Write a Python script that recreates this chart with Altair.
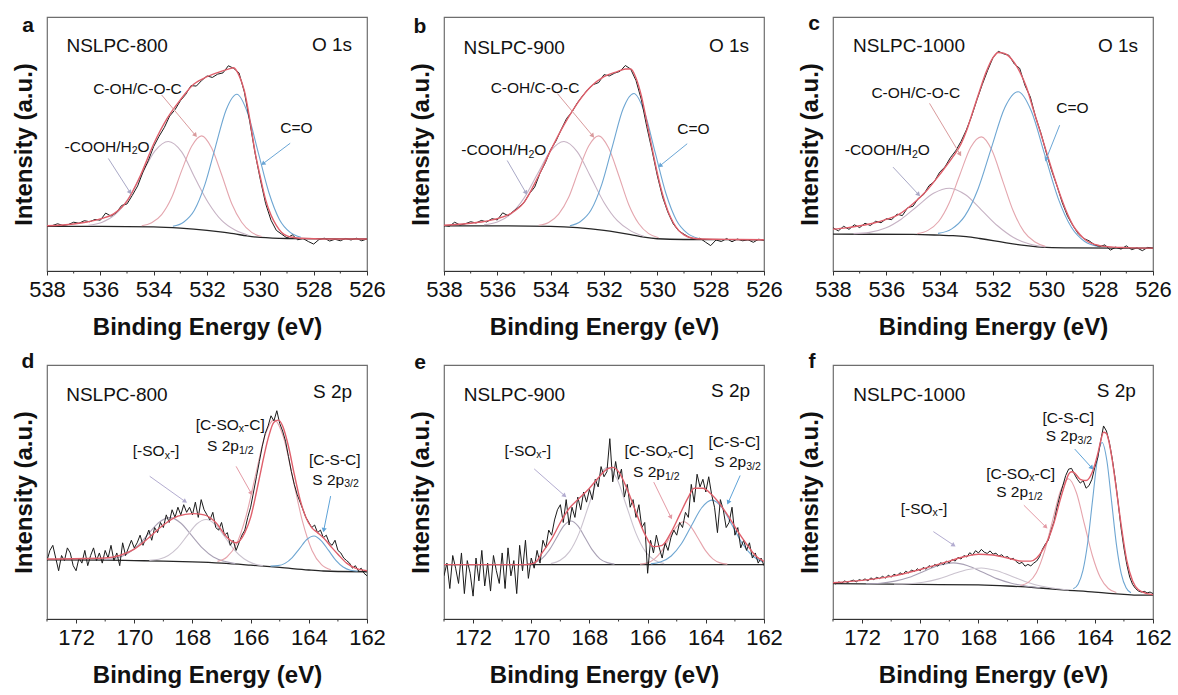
import math
import altair as alt
import numpy as np
import pandas as pd

FONT = "Liberation Sans"
W, H = 320, 254

# ---------------- axes ----------------
O_DOMAIN = [526, 538]
S_DOMAIN = [162, 173]
O_MAJOR = [538, 536, 534, 532, 530, 528, 526]
O_MINOR = [537, 535, 533, 531, 529, 527]
S_MAJOR = [172, 170, 168, 166, 164, 162]
S_MINOR = [173, 171, 169, 167, 165, 163]

# energy sampling grids of the measured spectra
O_RAW_X = np.round(np.linspace(538, 526, 61), 2)
S_RAW_X = np.round(np.linspace(173, 162, 111), 2)

# ---------------- panel a : NSLPC-800 O 1s ----------------
A_RAW = [17.5, 17.9, 18.6, 17.9, 18.3, 19.2, 18.8, 19.8, 19.4, 20.3,
         20.0, 22.8, 21.6, 23.0, 25.8, 26.4, 29.8, 33.5, 39.0, 43.5,
         49.0, 53.0, 56.5, 61.0, 63.5, 67.0, 69.5, 73.0, 72.8, 75.0,
         76.8, 76.2, 77.5, 78.0, 80.8, 79.8, 78.0, 70.5, 59.0, 46.5,
         36.0, 26.5, 20.0, 16.0, 14.5, 13.0, 14.2, 12.3, 12.8, 11.6,
         10.6, 12.4, 12.9, 11.8, 12.5, 11.9, 12.8, 12.2, 12.9, 11.9, 12.6]
A_FIT_X = [538, 537, 536.5, 536, 535.5, 535, 534.5, 534, 533.5, 533, 532.5, 532, 531.5, 531.2, 531,
           530.8, 530.6, 530.4, 530.2, 530, 529.8, 529.6, 529.4, 529.2, 529, 528.7, 528.3, 527, 526]
A_FIT_Y = [17.8, 18.5, 19.3, 20.5, 22.5, 27.5, 37.5, 50.0, 60.0, 67.4, 73.5, 76.5, 78.5, 79.5, 80.0,
           77.0, 71.0, 60.0, 47.0, 37.0, 28.0, 22.0, 18.0, 15.2, 13.8, 13.1, 12.8, 12.6, 12.6]
A_BASE_X = [538, 536, 534, 533, 532, 531.5, 531, 530.5, 530, 529, 526]
A_BASE_Y = [17.6, 17.6, 17.4, 16.9, 16.0, 15.4, 14.7, 13.8, 13.2, 12.8, 12.6]
A_P1_X = [536.45, 535.95, 535.45, 534.95, 534.45, 533.95, 533.45, 532.95, 532.45, 531.95, 531.45, 530.95, 530.45]
A_P1_Y = [18.0, 19.1, 22.2, 28.5, 38.0, 47.3, 51.0, 46.9, 36.6, 26.9, 19.9, 16.1, 14.1]
A_P2_X = [534.45, 534.075, 533.7, 533.325, 532.95, 532.575, 532.2, 531.825, 531.45, 531.075, 530.7, 530.325, 529.95]
A_P2_Y = [17.8, 19.0, 22.2, 28.9, 39.5, 49.1, 53.2, 48.4, 37.9, 26.6, 19.2, 15.2, 13.6]
A_P3_X = [533.28, 532.88, 532.48, 532.08, 531.68, 531.28, 530.88, 530.48, 530.08, 529.68, 529.28, 528.88, 528.48]
A_P3_Y = [17.6, 19.2, 23.8, 34.0, 49.0, 63.5, 69.6, 62.3, 46.7, 30.9, 20.2, 15.2, 13.3]

# ---------------- panel b : NSLPC-900 O 1s ----------------
B_RAW = [18.0, 17.6, 19.2, 18.1, 18.6, 19.4, 18.9, 19.9, 19.3, 20.6,
         20.1, 22.9, 21.8, 23.5, 25.1, 26.9, 30.4, 33.0, 38.5, 42.6,
         47.8, 51.2, 55.8, 60.1, 62.6, 66.2, 69.0, 71.5, 73.4, 74.2,
         77.3, 76.8, 77.9, 78.6, 80.9, 79.5, 75.0, 67.5, 57.0, 47.5,
         37.5, 29.0, 23.0, 18.5, 15.8, 14.5, 13.2, 12.6, 12.9, 11.4,
         10.0, 12.2, 11.6, 12.8, 11.5, 12.6, 11.9, 12.3, 11.3, 12.5, 12.1]
B_FIT_X = [538, 537, 536.5, 536, 535.5, 535, 534.5, 534, 533.5, 533, 532.5, 532, 531.5, 531.2, 531,
           530.8, 530.6, 530.4, 530.2, 530, 529.8, 529.6, 529.4, 529.2, 529, 528.7, 528.3, 527, 526]
B_FIT_Y = [18.0, 18.8, 19.5, 20.6, 22.6, 27.0, 36.5, 47.5, 57.5, 66.0, 72.5, 76.5, 78.5, 79.5, 79.5,
           76.0, 69.0, 59.0, 48.5, 38.5, 30.0, 23.5, 19.0, 16.0, 14.2, 13.0, 12.6, 12.4, 12.3]
B_BASE_X = [538, 536, 534, 533, 532, 531.5, 531, 530.5, 530, 529, 526]
B_BASE_Y = [17.8, 17.8, 17.6, 17.1, 16.0, 15.2, 14.3, 13.3, 12.7, 12.4, 12.3]
B_P1_X = [536.5, 536.0, 535.5, 535.0, 534.5, 534.0, 533.5, 533.0, 532.5, 532.0, 531.5, 531.0, 530.5]
B_P1_Y = [18.2, 19.3, 22.4, 28.7, 38.1, 47.3, 51.0, 46.9, 37.1, 27.0, 19.8, 15.8, 13.7]
B_P2_X = [534.45, 534.075, 533.7, 533.325, 532.95, 532.575, 532.2, 531.825, 531.45, 531.075, 530.7, 530.325, 529.95]
B_P2_Y = [18.0, 19.1, 22.4, 29.0, 39.6, 49.2, 53.2, 48.4, 37.7, 26.2, 18.7, 14.7, 13.1]
B_P3_X = [533.28, 532.88, 532.48, 532.08, 531.68, 531.28, 530.88, 530.48, 530.08, 529.68, 529.28, 528.88, 528.48]
B_P3_Y = [17.8, 19.5, 24.1, 34.2, 49.3, 64.0, 69.9, 62.5, 46.6, 30.6, 19.9, 14.9, 12.9]

# ---------------- panel c : NSLPC-1000 O 1s ----------------
C_RAW = [17.0, 15.8, 17.6, 16.4, 18.2, 17.1, 18.8, 17.9, 19.6, 19.0,
         20.6, 20.2, 22.4, 21.8, 24.9, 25.5, 28.6, 30.1, 33.6, 35.2,
         38.9, 41.0, 44.6, 47.3, 51.0, 55.5, 61.0, 67.5, 73.5, 79.0,
         84.0, 86.5, 85.5, 84.9, 81.5, 79.8, 73.0, 68.5, 60.5, 54.2,
         46.5, 39.5, 33.5, 26.8, 21.5, 17.8, 14.6, 12.8, 11.9, 10.4,
         9.6, 10.3, 8.2, 9.4, 8.6, 9.9, 8.4, 9.1, 8.0, 9.3, 9.0]
C_FIT_X = [538, 537.5, 537, 536.5, 536, 535.5, 535, 534.5, 534, 533.5, 533.2, 533, 532.75, 532.5, 532.25,
           532, 531.8, 531.6, 531.4, 531.2, 531, 530.75, 530.5, 530.25, 530, 529.75, 529.5, 529.25, 529,
           528.75, 528.5, 528, 527.5, 527, 526]
C_FIT_Y = [16.5, 17.0, 17.8, 18.8, 20.3, 22.5, 26.5, 31.5, 38.0, 45.0, 50.0, 55.0, 63.0, 71.0, 78.5,
           84.0, 86.0, 85.8, 84.5, 82.0, 78.5, 72.5, 64.0, 55.5, 47.0, 38.5, 30.5, 23.5, 18.0,
           14.5, 12.0, 10.0, 9.4, 9.2, 9.0]
C_BASE_X = [538, 535, 534, 533.5, 533, 532.5, 532, 531.5, 531, 530.5, 530, 529, 526]
C_BASE_Y = [14.5, 14.4, 14.1, 13.9, 13.5, 12.8, 12.0, 11.1, 10.3, 9.7, 9.3, 9.1, 9.0]
C_P1_X = [537.23, 536.63, 536.03, 535.43, 534.83, 534.23, 533.63, 533.03, 532.43, 531.83, 531.23, 530.63, 530.03]
C_P1_Y = [14.7, 15.2, 16.9, 20.5, 25.6, 30.6, 32.6, 30.0, 24.0, 17.8, 13.2, 10.6, 9.5]
C_P2_X = [534.84, 534.44, 534.04, 533.64, 533.24, 532.84, 532.44, 532.04, 531.64, 531.24, 530.84, 530.44, 530.04]
C_P2_Y = [14.7, 16.0, 19.5, 26.9, 38.0, 48.6, 52.8, 47.5, 35.6, 23.6, 15.5, 11.5, 9.7]
C_P3_X = [534.06, 533.56, 533.06, 532.56, 532.06, 531.56, 531.06, 530.56, 530.06, 529.56, 529.06, 528.56, 528.06]
C_P3_Y = [14.8, 16.5, 21.6, 32.3, 48.5, 64.3, 70.6, 62.9, 45.8, 28.7, 17.2, 11.6, 9.7]

# ---------------- panel d : NSLPC-800 S 2p ----------------
D_RAW = [23, 27, 29, 24, 19, 25, 23, 28, 26, 21,
         19, 24, 22, 27, 21, 25, 28, 23, 26, 22,
         27, 24, 29, 23, 26, 21, 30, 25, 28, 31,
         28, 30, 33, 29, 32, 35, 31, 36, 34, 38,
         36, 41, 38, 43, 40, 44, 41, 45, 42, 44,
         41, 46, 40, 47, 43, 41, 39, 42, 36, 35,
         38, 33, 34, 29, 31, 27, 30, 33, 35, 40,
         44, 50, 56, 62, 68, 73, 76, 80, 78, 82,
         77, 74, 70, 64, 58, 53, 49, 46, 43, 40,
         38, 36, 37, 34, 35, 32, 33, 30, 29, 31,
         27, 26, 24, 23, 22, 20, 21, 19, 20, 18, 17]
D_FIT_X = [173, 171, 170.5, 170, 169.5, 169, 168.5, 168, 167.6, 167.2, 166.8, 166.5, 166.2, 166, 165.8,
           165.6, 165.4, 165.2, 165.05, 164.9, 164.7, 164.5, 164.3, 164.1, 163.9, 163.7, 163.5, 163.2,
           163, 162.7, 162.4, 162]
D_FIT_Y = [23.6, 24.0, 25.0, 27.5, 32.0, 37.0, 40.5, 41.5, 41.0, 38.0, 32.0, 30.0, 34.0, 40.0, 50.0,
           61.0, 71.0, 77.5, 78.3, 76.0, 68.0, 57.0, 47.0, 40.0, 36.0, 34.0, 32.0, 28.0,
           25.5, 22.0, 20.0, 19.0]
D_BASE_X = [173, 171, 170, 169, 168, 167, 166, 165, 164, 163.5, 163, 162]
D_BASE_Y = [23.3, 23.2, 23.0, 22.8, 22.5, 22.0, 21.2, 20.3, 19.3, 18.9, 18.7, 18.6]
D_P1_X = [171.03, 170.655, 170.28, 169.905, 169.53, 169.155, 168.78, 168.405, 168.03, 167.655, 167.28, 166.905, 166.53]
D_P1_Y = [23.4, 23.9, 25.4, 28.6, 33.3, 38.0, 39.9, 37.8, 32.9, 27.9, 24.4, 22.7, 21.8]
D_P2_X = [169.48, 169.155, 168.83, 168.505, 168.18, 167.855, 167.53, 167.205, 166.88, 166.555, 166.23, 165.905, 165.58]
D_P2_Y = [23.1, 23.5, 25.0, 28.1, 32.8, 37.4, 39.2, 37.1, 32.2, 27.1, 23.7, 21.8, 21.0]
D_P3_X = [167.14, 166.815, 166.49, 166.165, 165.84, 165.515, 165.19, 164.865, 164.54, 164.215, 163.89, 163.565, 163.24]
D_P3_Y = [22.7, 24.4, 29.4, 40.2, 56.2, 71.9, 78.4, 71.3, 54.9, 38.3, 27.0, 21.4, 19.4]
D_P4_X = [165.32, 165.07, 164.82, 164.57, 164.32, 164.07, 163.82, 163.57, 163.32, 163.07, 162.82, 162.57, 162.32]
D_P4_Y = [20.8, 21.0, 21.9, 24.2, 27.7, 31.3, 32.7, 30.8, 27.0, 23.1, 20.5, 19.2, 18.8]

# ---------------- panel e : NSLPC-900 S 2p ----------------
E_RAW = [17, 22, 12, 25, 20, 14, 26, 10, 23, 18,
         9, 24, 15, 27, 13, 22, 11, 25, 19, 14,
         26, 12, 28, 17, 23, 10, 29, 19, 31, 16,
         24, 20, 27, 22, 31, 28, 35, 33, 39, 43,
         45, 38, 47, 37, 44, 40, 48, 43, 50, 46,
         51, 47, 55, 52, 60, 56, 58, 71, 54, 62,
         55, 59, 48, 53, 44, 47, 40, 45, 36, 38,
         18, 31, 26, 33, 28, 24, 30, 27, 32, 35,
         33, 38, 36, 42, 40, 53, 46, 57, 52, 55,
         50, 56, 49, 44, 34, 47, 43, 36, 38, 44,
         33, 36, 28, 31, 27, 30, 24, 26, 22, 24, 21]
E_FIT_X = [173, 170.2, 169.9, 169.6, 169.3, 169, 168.7, 168.4, 168, 167.7, 167.4, 167.2, 167, 166.7, 166.4,
           166.1, 165.8, 165.5, 165.2, 164.9, 164.6, 164.4, 164.1, 163.8, 163.5, 163.2, 162.9, 162.6, 162.3, 162]
E_FIT_Y = [21.4, 21.4, 22.0, 26.5, 31.5, 38.0, 43.5, 47.0, 51.5, 55.5, 59.0, 59.7, 58.0, 51.0, 42.0,
           33.5, 28.5, 29.0, 34.0, 41.0, 48.0, 51.5, 51.5, 49.0, 45.0, 40.0, 34.5, 29.5, 25.0, 22.7]
E_BASE_X = [173, 162]
E_BASE_Y = [21.4, 21.4]
E_P1_X = [170.14, 169.89, 169.64, 169.39, 169.14, 168.89, 168.64, 168.39, 168.14, 167.89, 167.64, 167.39, 167.14]
E_P1_Y = [21.6, 22.2, 23.7, 27.0, 31.8, 36.6, 38.6, 36.6, 31.8, 27.0, 23.7, 22.2, 21.6]
E_P2_X = [169.33, 169.005, 168.68, 168.355, 168.03, 167.705, 167.38, 167.055, 166.73, 166.405, 166.08, 165.755, 165.43]
E_P2_Y = [21.8, 23.1, 26.6, 33.8, 44.6, 55.2, 59.7, 55.2, 44.6, 33.8, 26.6, 23.1, 21.8]
E_P3_X = [166.26, 166.01, 165.76, 165.51, 165.26, 165.01, 164.76, 164.51, 164.26, 164.01, 163.76, 163.51, 163.26]
E_P3_Y = [21.6, 22.1, 23.7, 26.9, 31.7, 36.3, 38.3, 36.3, 31.7, 26.9, 23.7, 22.1, 21.6]
E_P4_X = [165.89, 165.54, 165.19, 164.84, 164.49, 164.14, 163.79, 163.44, 163.09, 162.74, 162.39, 162.04]
E_P4_Y = [21.7, 22.5, 24.8, 29.6, 36.8, 43.8, 46.8, 43.8, 36.8, 29.6, 24.8, 22.5]

# ---------------- panel f : NSLPC-1000 S 2p ----------------
F_RAW = [14.2, 13.8, 14.6, 14.1, 15.0, 14.4, 14.9, 15.3, 14.6, 15.5,
         15.1, 15.8, 15.0, 16.2, 15.5, 16.4, 15.9, 16.8, 16.1, 17.2,
         16.5, 17.6, 17.0, 18.2, 17.6, 18.8, 18.1, 19.3, 18.7, 19.8,
         19.0, 20.3, 19.6, 21.0, 20.4, 21.5, 20.8, 22.2, 21.4, 22.8,
         22.1, 23.5, 22.8, 24.3, 23.6, 25.0, 24.4, 26.1, 25.2, 26.9,
         26.0, 27.4, 26.3, 25.8, 26.8, 25.5, 25.9, 24.8, 25.3, 24.2,
         24.6, 23.5, 23.9, 22.6, 21.8, 22.3, 20.8, 21.5, 20.9, 22.0,
         22.8, 24.5, 27.5, 29.5, 31.0, 35.0, 38.5, 44.0, 48.5, 52.5,
         56.5, 59.0, 59.3, 57.0, 55.0, 53.5, 54.5, 51.5, 52.5, 55.0,
         59.7, 63.5, 70.0, 76.0, 74.0, 69.5, 63.0, 55.2, 46.0, 36.0,
         28.0, 21.4, 16.5, 13.6, 12.0, 11.0, 10.6, 10.9, 10.3, 10.6, 10.0]
F_FIT_X = [173, 172, 171, 170, 169, 168.5, 168, 167.5, 167, 166.5, 166.2, 166, 165.8, 165.6, 165.4, 165.2,
           165, 164.9, 164.8, 164.7, 164.5, 164.3, 164.1, 163.9, 163.8, 163.7, 163.6, 163.5, 163.4, 163.3,
           163.1, 162.9, 162.7, 162.5, 162.2, 162]
F_FIT_Y = [14.3, 15.2, 16.8, 19.5, 22.8, 24.5, 25.5, 25.2, 24.0, 22.8, 22.8, 24.0, 27.0, 31.5, 38.0, 46.5,
           54.0, 57.0, 58.0, 57.5, 55.0, 54.5, 57.5, 65.0, 70.0, 73.5, 73.0, 69.0, 62.5, 54.5,
           37.5, 23.0, 15.0, 11.5, 10.0, 9.6]
F_BASE_X = [173, 170, 168, 167, 166, 165, 164, 163.5, 163, 162.5, 162]
F_BASE_Y = [13.9, 13.6, 13.4, 13.0, 12.3, 11.4, 10.6, 10.1, 9.7, 9.4, 9.4]
F_P1_X = [171.87, 171.37, 170.87, 170.37, 169.87, 169.37, 168.87, 168.37, 167.87, 167.37, 166.87, 166.37, 165.87]
F_P1_Y = [13.9, 14.1, 14.9, 16.4, 18.8, 21.1, 22.1, 21.0, 18.5, 15.9, 14.1, 13.0, 12.3]
F_P2_X = [170.9, 170.4, 169.9, 169.4, 168.9, 168.4, 167.9, 167.4, 166.9, 166.4, 165.9, 165.4, 164.9]
F_P2_Y = [13.8, 13.9, 14.5, 15.7, 17.6, 19.4, 20.1, 19.1, 17.0, 14.8, 13.1, 12.1, 11.4]
F_P3_X = [166.56, 166.285, 166.01, 165.735, 165.46, 165.185, 164.91, 164.635, 164.36, 164.085, 163.81, 163.535, 163.26]
F_P3_Y = [13.2, 14.4, 18.2, 26.4, 38.4, 50.3, 55.2, 49.8, 37.5, 25.0, 16.3, 12.0, 10.4]
F_P4_X = [164.74, 164.575, 164.41, 164.245, 164.08, 163.915, 163.75, 163.585, 163.42, 163.255, 163.09, 162.925, 162.76]
F_P4_Y = [11.9, 13.7, 19.0, 30.0, 46.5, 62.6, 69.5, 62.3, 45.9, 29.1, 17.8, 12.3, 10.3]

# ---------------- annotations (text with _{sub}, x, y, align, font size) ----------------
NS, AS = 19, 15.5   # sample / core-level label size, peak-label size
A_LABELS = [("NSLPC-800", 537.27, 88.4, "left", NS), ("O 1s", 526.56, 89.0, "right", NS),
            ("C-OH/C-O-C", 536.27, 71.6, "left", AS), ("-COOH/H_{2}O", 537.34, 49.0, "left", AS),
            ("C=O", 529.25, 56.2, "left", AS)]
B_LABELS = [("NSLPC-900", 537.27, 87.7, "left", NS), ("O 1s", 526.56, 88.4, "right", NS),
            ("C-OH/C-O-C", 536.25, 71.9, "left", AS), ("-COOH/H_{2}O", 537.35, 47.5, "left", AS),
            ("C=O", 529.25, 56.0, "left", AS)]
C_LABELS = [("NSLPC-1000", 537.25, 88.4, "left", NS), ("O 1s", 526.56, 88.4, "right", NS),
            ("C-OH/C-O-C", 536.56, 70.2, "left", AS), ("-COOH/H_{2}O", 537.56, 47.5, "left", AS),
            ("C=O", 529.63, 64.0, "left", AS)]
D_LABELS = [("NSLPC-800", 172.34, 88.2, "left", NS), ("S 2p", 162.51, 89.5, "right", NS),
            ("[-SO_{x}-]", 169.25, 66.0, "center", AS), ("[C-SO_{x}-C]", 166.7, 76.5, "center", AS),
            ("S 2p_{1/2}", 166.7, 68.0, "center", AS), ("[C-S-C]", 163.11, 62.7, "center", AS),
            ("S 2p_{3/2}", 163.08, 54.9, "center", AS)]
E_LABELS = [("NSLPC-900", 172.32, 88.3, "left", NS), ("S 2p", 162.48, 89.6, "right", NS),
            ("[-SO_{x}-]", 170.12, 66.2, "center", AS), ("[C-SO_{x}-C]", 165.61, 66.2, "center", AS),
            ("S 2p_{1/2}", 165.7, 57.8, "center", AS), ("[C-S-C]", 163.02, 69.5, "center", AS),
            ("S 2p_{3/2}", 162.91, 61.7, "center", AS)]
F_LABELS = [("NSLPC-1000", 172.3, 88.3, "left", NS), ("S 2p", 162.59, 89.6, "right", NS),
            ("[C-S-C]", 164.91, 79.2, "center", AS), ("S 2p_{3/2}", 164.89, 72.0, "center", AS),
            ("[C-SO_{x}-C]", 166.55, 57.1, "center", AS), ("S 2p_{1/2}", 166.59, 50.0, "center", AS),
            ("[-SO_{x}-]", 169.87, 43.5, "center", AS)]

# arrows (x start, y start, x end, y end)
O_ARROW_COLORS = ["#a9a8c6", "#d99a9c", "#6aa6d6"]
S_ARROW_COLORS = ["#b3acd0", "#e49aa5", "#5ea3d8"]
A_ARROWS = [(535.7, 44.3, 534.9, 31.2), (533.7, 69.3, 532.45, 53.6), (528.88, 50.3, 529.88, 42.4)]
B_ARROWS = [(535.63, 43.5, 534.94, 31.0), (533.75, 69.9, 532.44, 53.4), (528.88, 50.1, 529.88, 41.6)]
C_ARROWS = [(535.75, 40.9, 534.81, 30.3), (534.38, 66.0, 533.25, 46.2), (529.5, 57.4, 530.0, 44.2)]
D_ARROWS = [(169.47, 56.2, 168.27, 46.4), (166.5, 60.1, 165.99, 49.7), (163.25, 48.4, 163.48, 35.3)]
E_ARROWS = [(169.9, 59.1, 168.87, 48.7), (165.79, 53.9, 165.21, 40.3), (162.82, 56.5, 163.22, 46.1)]
F_ARROWS = [(169.55, 34.4, 168.87, 29.2), (166.44, 44.8, 165.7, 36.4), (164.69, 66.9, 164.12, 59.7)]

RAW_COLOR = "#1b1b1b"
FIT_COLOR = "#df5f6b"
BASE_COLOR = "#262626"
O_COMP_COLORS = ["#c6b2c4", "#e4a6ae", "#6ea6d2"]
S_COMP_COLORS = ["#a9a1b5", "#cbc3cf", "#e6a4ac", "#6ea6d2"]

PANELS = [
    dict(letter="a", lpos=(-19, 9), domain=O_DOMAIN, major=O_MAJOR, minor=O_MINOR, raw_x=O_RAW_X, raw_y=A_RAW,
         fit=(A_FIT_X, A_FIT_Y), base=(A_BASE_X, A_BASE_Y),
         comps=[(A_P1_X, A_P1_Y), (A_P2_X, A_P2_Y), (A_P3_X, A_P3_Y)], colors=O_COMP_COLORS,
         labels=A_LABELS, arrows=A_ARROWS, acolors=O_ARROW_COLORS),
    dict(letter="b", lpos=(-24, 10), domain=O_DOMAIN, major=O_MAJOR, minor=O_MINOR, raw_x=O_RAW_X, raw_y=B_RAW,
         fit=(B_FIT_X, B_FIT_Y), base=(B_BASE_X, B_BASE_Y),
         comps=[(B_P1_X, B_P1_Y), (B_P2_X, B_P2_Y), (B_P3_X, B_P3_Y)], colors=O_COMP_COLORS,
         labels=B_LABELS, arrows=B_ARROWS, acolors=O_ARROW_COLORS),
    dict(letter="c", lpos=(-19, 7), domain=O_DOMAIN, major=O_MAJOR, minor=O_MINOR, raw_x=O_RAW_X, raw_y=C_RAW,
         fit=(C_FIT_X, C_FIT_Y), base=(C_BASE_X, C_BASE_Y),
         comps=[(C_P1_X, C_P1_Y), (C_P2_X, C_P2_Y), (C_P3_X, C_P3_Y)], colors=O_COMP_COLORS,
         labels=C_LABELS, arrows=C_ARROWS, acolors=O_ARROW_COLORS),
    dict(letter="d", lpos=(-19, -3), domain=S_DOMAIN, major=S_MAJOR, minor=S_MINOR, raw_x=S_RAW_X, raw_y=D_RAW,
         fit=(D_FIT_X, D_FIT_Y), base=(D_BASE_X, D_BASE_Y),
         comps=[(D_P1_X, D_P1_Y), (D_P2_X, D_P2_Y), (D_P3_X, D_P3_Y), (D_P4_X, D_P4_Y)], colors=S_COMP_COLORS,
         labels=D_LABELS, arrows=D_ARROWS, acolors=S_ARROW_COLORS),
    dict(letter="e", lpos=(-24, -2), domain=S_DOMAIN, major=S_MAJOR, minor=S_MINOR, raw_x=S_RAW_X, raw_y=E_RAW,
         fit=(E_FIT_X, E_FIT_Y), base=(E_BASE_X, E_BASE_Y),
         comps=[(E_P1_X, E_P1_Y), (E_P2_X, E_P2_Y), (E_P3_X, E_P3_Y), (E_P4_X, E_P4_Y)], colors=S_COMP_COLORS,
         labels=E_LABELS, arrows=E_ARROWS, acolors=S_ARROW_COLORS),
    dict(letter="f", lpos=(-21, -3), domain=S_DOMAIN, major=S_MAJOR, minor=S_MINOR, raw_x=S_RAW_X, raw_y=F_RAW,
         fit=(F_FIT_X, F_FIT_Y), base=(F_BASE_X, F_BASE_Y),
         comps=[(F_P1_X, F_P1_Y), (F_P2_X, F_P2_Y), (F_P3_X, F_P3_Y), (F_P4_X, F_P4_Y)], colors=S_COMP_COLORS,
         labels=F_LABELS, arrows=F_ARROWS, acolors=S_ARROW_COLORS),
]

# Arial / Liberation Sans advance widths (per 1000 em) used to lay out text with subscripts
CHAR_W = {" ": 278, "-": 333, "/": 278, "=": 584, "[": 278, "]": 278, "0": 556, "1": 556, "2": 556,
          "3": 556, "8": 556, "9": 556, "C": 722, "H": 722, "L": 556, "N": 722, "O": 778, "P": 667,
          "S": 667, "p": 556, "s": 500, "x": 500}
SUB_SCALE = 0.68
SUB_DROP = 4.5


def parse(t):
    segs, i = [], 0
    while i < len(t):
        if t.startswith("_{", i):
            j = t.index("}", i)
            segs.append((t[i + 2:j], True))
            i = j + 1
        else:
            j = t.find("_{", i)
            j = len(t) if j == -1 else j
            segs.append((t[i:j], False))
            i = j
    return segs


def text_w(s, size):
    return sum(CHAR_W.get(ch, 556) for ch in s) / 1000.0 * size


def layout_labels(labels, lo, hi):
    rows = []
    for t, x, y, al, size in labels:
        segs = parse(t)
        widths = [text_w(s, size * SUB_SCALE if sub else size) for s, sub in segs]
        total = sum(widths)
        off = {"left": 0.0, "center": -total / 2.0, "right": -total}[al]
        for (s, sub), w in zip(segs, widths):
            rows.append({"t": s, "x": x - off * (hi - lo) / W,
                         "y": y - (SUB_DROP * 100.0 / H if sub else 0.0),
                         "s": size * SUB_SCALE if sub else size})
            off += w
    return pd.DataFrame(rows)


def make_panel(p):
    lo, hi = p["domain"]
    xs = alt.Scale(domain=[lo, hi], reverse=True, nice=False, zero=False)
    ys = alt.Scale(domain=[0, 100], nice=False, zero=False)
    xax = alt.Axis(values=p["major"], title="Binding Energy (eV)", format="d", grid=False,
                   labelFont=FONT, labelFontSize=22, labelColor="#111", labelPadding=4,
                   labelFlush=False, labelOverlap=False, labelBound=False,
                   tickSize=4, tickColor="#333", tickWidth=1, domainColor="#333", domainWidth=1,
                   titleFont=FONT, titleFontSize=24, titleFontWeight="bold", titleColor="#111",
                   titlePadding=15)
    yax = alt.Axis(title="Intensity (a.u.)", labels=False, ticks=False, domain=False, grid=False,
                   titleFont=FONT, titleFontSize=24, titleFontWeight="bold", titleColor="#111",
                   titlePadding=11)
    X = alt.X("x:Q", scale=xs, axis=xax)
    Y = alt.Y("y:Q", scale=ys, axis=yax)

    def line(xv, yv, color, w, interp):
        df = pd.DataFrame({"x": list(xv), "y": list(yv)})
        return alt.Chart(df).mark_line(color=color, strokeWidth=w, interpolate=interp, clip=True).encode(x=X, y=Y)

    layers = [line(p["base"][0], p["base"][1], BASE_COLOR, 1.3, "monotone")]
    for (cx, cy), col in zip(p["comps"], p["colors"]):
        layers.append(line(cx, cy, col, 1.1, "monotone"))
    layers.append(line(p["raw_x"], p["raw_y"], RAW_COLOR, 1.0, "linear"))
    layers.append(line(p["fit"][0], p["fit"][1], FIT_COLOR, 1.4, "monotone"))

    # minor ticks
    mt = pd.DataFrame({"x": p["minor"]})
    layers.append(alt.Chart(mt).mark_rule(color="#333", strokeWidth=1).encode(
        x=X, y=alt.value(H), y2=alt.value(H + 2.5)))

    # arrows
    rows, heads = [], []
    for (x1, y1, x2, y2), col in zip(p["arrows"], p["acolors"]):
        rows.append({"x": x1, "y": y1, "x2": x2, "y2": y2, "c": col})
        dxp = -(x2 - x1) * W / (hi - lo)
        dyp = -(y2 - y1) * H / 100.0
        ang = math.degrees(math.atan2(dxp, -dyp)) % 360
        heads.append({"x": x2, "y": y2, "a": ang, "c": col})
    layers.append(alt.Chart(pd.DataFrame(rows)).mark_rule(strokeWidth=1).encode(
        x=X, y=Y, x2="x2:Q", y2="y2:Q", color=alt.Color("c:N", scale=None)))
    layers.append(alt.Chart(pd.DataFrame(heads)).mark_point(shape="triangle", filled=True, size=26, opacity=1).encode(
        x=X, y=Y, angle=alt.Angle("a:Q", scale=None), color=alt.Color("c:N", scale=None)))

    # text labels (segments with subscripts laid out from the anchor)
    lab = layout_labels(p["labels"], lo, hi)
    layers.append(alt.Chart(lab).mark_text(align="left", baseline="middle", font=FONT, color="#111").encode(
        x=X, y=Y, text="t:N", size=alt.Size("s:Q", scale=None)))

    # panel letter
    layers.append(alt.Chart(pd.DataFrame({"t": [p["letter"]]})).mark_text(
        font=FONT, fontSize=21, fontWeight="bold", align="center", baseline="middle", color="#111").encode(
        x=alt.value(p["lpos"][0]), y=alt.value(p["lpos"][1]), text="t:N"))

    return alt.layer(*layers).properties(width=W, height=H)


charts = [make_panel(p) for p in PANELS]
row1 = alt.hconcat(charts[0], alt.hconcat(charts[1], charts[2], spacing=14), spacing=22)
row2 = alt.hconcat(charts[3], alt.hconcat(charts[4], charts[5], spacing=14), spacing=22)
chart = alt.vconcat(row1, row2, spacing=10).properties(
    padding={"left": 11, "top": 12, "right": 4, "bottom": 0}, background="white"
).configure_view(stroke="#6e6e6e", strokeWidth=1.2)

chart.save("out.html", embed_options={"renderer": "svg", "actions": False})
